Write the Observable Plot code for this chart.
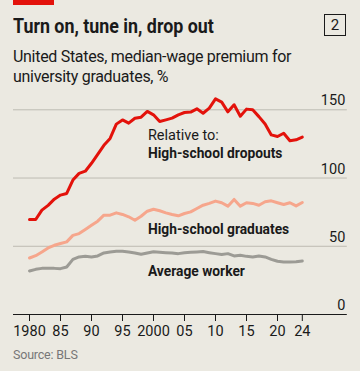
<!DOCTYPE html>
<html>
<head>
<meta charset="utf-8">
<script src="https://cdn.jsdelivr.net/npm/d3@7"></script>
<script src="https://cdn.jsdelivr.net/npm/@observablehq/plot@0.6"></script>
<style>
  html, body { margin: 0; padding: 0; background: #ebe9e1; }
  body { width: 360px; height: 371px; position: relative; overflow: hidden; font-family: Roboto, "Noto Sans", sans-serif; color: #1a1a1a; }
  #bar { position: absolute; left: 13px; top: 0; width: 41px; height: 5px; background: #e3120b; }
  #title { position: absolute; left: 13px; top: 14px; font-size: 20.5px; font-weight: 700; white-space: nowrap; transform: scaleX(0.87); transform-origin: left top; }
  #num { position: absolute; left: 324px; top: 14px; width: 20px; height: 20px; border: 1.3px solid #1a1a1a; font-size: 15px; line-height: 20px; text-align: center; }
  #sub { position: absolute; left: 13px; top: 47px; font-size: 16px; line-height: 19.5px; width: 320px; letter-spacing: -0.3px; }
  #chart { position: absolute; left: 0; top: 90px; }
  #src { position: absolute; left: 13px; top: 347px; font-size: 12.5px; color: #777; letter-spacing: -0.2px; }
</style>
</head>
<body>
<div id="bar"></div>
<div id="title">Turn on, tune in, drop out</div>
<div id="num">2</div>
<div id="sub">United States, median-wage premium for<br>university graduates, %</div>
<div id="chart"></div>
<div id="src">Source: BLS</div>
<script>
const years = d3.range(1980, 2025);
const dropouts = [69.6, 69.6, 76.5, 80, 84.5, 87.5, 88.7, 98.5, 103.4, 105,
  110.8, 117.4, 124, 129, 139.5, 142.6, 140.2, 143.8, 144.6, 148.8,
  146.3, 141.4, 142.6, 143.9, 146.3, 148, 148.3, 150.7, 147.5, 151.2,
  158, 155.6, 148.5, 153.7, 145.3, 150.5, 150, 145, 139.6, 131.6,
  130.4, 132.8, 127.3, 128, 130];
const hsGraduates = [41.4, 43.1, 45.8, 48.8, 50.7, 52, 53.2, 58, 59.3, 62.3,
  65.4, 68.4, 72.8, 72.8, 74.5, 73.3, 71.6, 69.1, 72, 75.7,
  77.1, 76, 74.5, 73.3, 72.3, 74, 75.2, 77.7, 80.1, 81.4,
  83.1, 81.9, 79.4, 84.3, 79.4, 81.9, 81.4, 80.1, 82.6, 83.3,
  81.9, 80.6, 81.9, 79.6, 82.1];
const averageWorker = [31.9, 33.1, 33.8, 33.8, 33.8, 33.6, 34.8, 40.4, 42.2, 42.6,
  42.2, 42.9, 45.1, 45.8, 46.3, 46.3, 45.8, 45.1, 44.1, 45.1,
  46, 45.6, 45.3, 45.1, 44.6, 45.3, 45.6, 45.8, 46.1, 45.3,
  44.6, 43.9, 44.6, 42.9, 43.4, 42.6, 42.2, 42.9, 42.2, 40.4,
  39, 38.5, 38.5, 38.7, 39.2];
const yTicks = [0, 50, 100, 150];
const xTicks = [1980, 1985, 1990, 1995, 2000, 2005, 2010, 2015, 2020, 2024];
const xTickLabels = ["1980", "85", "90", "95", "2000", "05", "10", "15", "20", "24"];
const plainLabels = [{year: 2000, value: 131.6, text: "Relative to:"}];
const boldLabels = [
  {year: 2000, value: 117.6, text: "High-school dropouts"},
  {year: 2000, value: 62.5, text: "High-school graduates"},
  {year: 2000, value: 31.8, text: "Average worker"}
];

const mk = (vals) => years.map((y, i) => ({year: y, value: vals[i]}));

const plot = Plot.plot({
  width: 360,
  height: 255,
  marginLeft: 29,
  marginRight: 58.2,
  marginTop: 19.3,
  marginBottom: 31,
  x: {domain: [1980, 2024]},
  y: {domain: [0, 150], axis: null},
  style: {background: "transparent", fontFamily: "Roboto, 'Noto Sans', sans-serif"},
  marks: [
    Plot.ruleY(yTicks.filter(d => d > 0), {y: d => d, stroke: "#bdbbb2", strokeWidth: 1, insetLeft: -16, insetRight: -45}),
    Plot.text(yTicks, {y: d => d, text: d => String(d), frameAnchor: "right", textAnchor: "end", dx: 43, dy: -9, fontSize: 14.5, fill: "#1a1a1a"}),
    Plot.line(mk(averageWorker), {x: "year", y: "value", stroke: "#9c9b95", strokeWidth: 3}),
    Plot.line(mk(hsGraduates), {x: "year", y: "value", stroke: "#f6a68c", strokeWidth: 3}),
    Plot.line(mk(dropouts), {x: "year", y: "value", stroke: "#e3120b", strokeWidth: 3}),
    Plot.text(plainLabels, {x: d => d.year - 0.9, y: "value", text: "text", textAnchor: "start", fontSize: 14.5, fill: "#1a1a1a"}),
    Plot.text(boldLabels, {x: d => d.year - 0.9, y: "value", text: "text", textAnchor: "start", fontSize: 13.8, fontWeight: 700, fill: "#1a1a1a"}),
    Plot.ruleY([0], {y: d => d, stroke: "#1a1a1a", strokeWidth: 1, insetLeft: -16, insetRight: -45}),
    Plot.axisX({ticks: xTicks, tickFormat: d => xTickLabels[xTicks.indexOf(d)], tickSize: 7, tickPadding: 4, fontSize: 14.5, label: null, color: "#1a1a1a"})
  ]
});
document.getElementById("chart").appendChild(plot);
</script>
</body>
</html>
